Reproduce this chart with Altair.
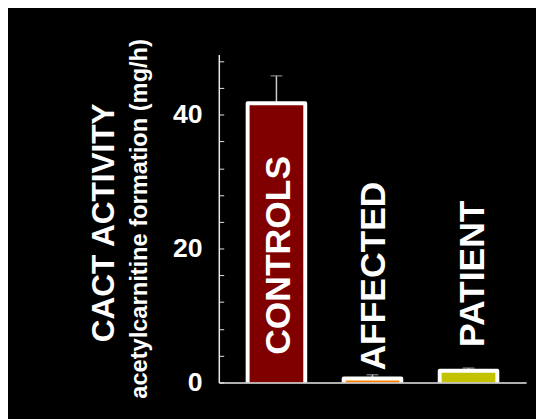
import altair as alt
import pandas as pd

# ---- data ----
categories = ["CONTROLS", "AFFECTED", "PATIENT"]
activity = [41.7, 0.6, 1.75]          # bar heights (mg/h)
upper = [45.8, 1.15, 2.15]            # top of the error bar
colors = ["#800000", "#ff8000", "#c2c200"]
y_label_values = [0, 20, 40]
y_tick_values = [0, 4, 8, 12, 16, 20, 24, 28, 32, 36, 40, 44, 48]
title_main = "CACT ACTIVITY"
title_sub = "acetylcarnitine formation (mg/h)"

df = pd.DataFrame({"group": categories, "activity": activity, "upper": upper})

FONT = "Liberation Sans"
W, H = 312, 333
AXIS_COL = "#e8e8e8"

x_enc = alt.X(
    "group:N",
    sort=categories,
    scale=alt.Scale(paddingInner=0.4, paddingOuter=0.3),
    axis=alt.Axis(labels=False, ticks=False, title=None, grid=False, zindex=1,
                  domainColor=AXIS_COL, domainWidth=1.5),
)
yscale = alt.Scale(domain=[0, 49], nice=False, zero=True)

base = alt.Chart(df)

# error bar stems
err_rule = base.mark_rule(color="#cccccc", strokeWidth=1.5).encode(
    x=x_enc,
    y=alt.Y(
        "activity:Q", scale=yscale,
        axis=alt.Axis(orient="right", offset=-W, values=y_tick_values, labels=False,
                      domain=False, ticks=True, tickSize=5, tickColor=AXIS_COL,
                      tickWidth=1, grid=False, title=None),
    ),
    y2="upper:Q",
)

# error bar caps (also carries the sub-title axis)
err_cap = base.mark_tick(orient="horizontal", size=12, thickness=1.5, color="#9a9a9a").encode(
    x=x_enc,
    y=alt.Y(
        "upper:Q", scale=yscale,
        axis=alt.Axis(orient="left", labels=False, ticks=False, domain=False, grid=False,
                      title=title_sub, titleFont=FONT, titleFontSize=24,
                      titleFontWeight="bold", titleColor="white", titleAngle=270,
                      titleX=-73, titleY=H / 2, titleAlign="center",
                      titleBaseline="alphabetic"),
    ),
)

# bars: the white outline's bottom edge is pushed below the baseline and clipped
bars = base.mark_bar(stroke="white", strokeWidth=4, strokeJoin="round", clip=True).encode(
    x=x_enc,
    y=alt.Y(
        "activity:Q", scale=yscale,
        axis=alt.Axis(orient="left", values=y_label_values, ticks=False, domain=True,
                      domainColor=AXIS_COL, domainWidth=1.5, labelColor="white",
                      labelFont=FONT, labelFontSize=27, labelFontWeight="bold",
                      labelPadding=17, grid=False, zindex=1,
                      title=title_main, titleFont=FONT, titleFontSize=32,
                      titleFontWeight="bold", titleColor="white", titleAngle=270,
                      titleX=-107, titleY=H / 2 + 4, titleAlign="center",
                      titleBaseline="alphabetic"),
    ),
    y2=alt.Y2Datum(-1),
    color=alt.Color("group:N", scale=alt.Scale(domain=categories, range=colors), legend=None),
)

# vertical group labels (dx runs up the text direction, dy sideways)
label_offsets = {"CONTROLS": (28, 3), "AFFECTED": (12, 2), "PATIENT": (36, 5)}
texts = []
for cat in categories:
    dxv, dyv = label_offsets[cat]
    texts.append(
        base.transform_filter(alt.datum.group == cat)
        .mark_text(angle=270, align="left", baseline="middle", dx=dxv, dy=dyv,
                   font=FONT, fontSize=36, fontWeight="bold", color="white")
        .encode(
            x=x_enc,
            y=alt.YDatum(0, type="quantitative", scale=yscale, axis=None),
            text="group:N",
        )
    )

chart = (
    alt.layer(err_rule, err_cap, bars, *texts)
    .resolve_scale(y="shared")
    .resolve_axis(y="independent")
    .properties(
        width=W,
        height=H,
        background="black",
        padding={"left": 214, "top": 44, "right": 10, "bottom": 34},
        autosize=alt.AutoSizeParams(type="none"),
    )
    .configure_view(strokeWidth=0)
)

chart.save("out.html", embed_options={"renderer": "svg", "actions": False})
